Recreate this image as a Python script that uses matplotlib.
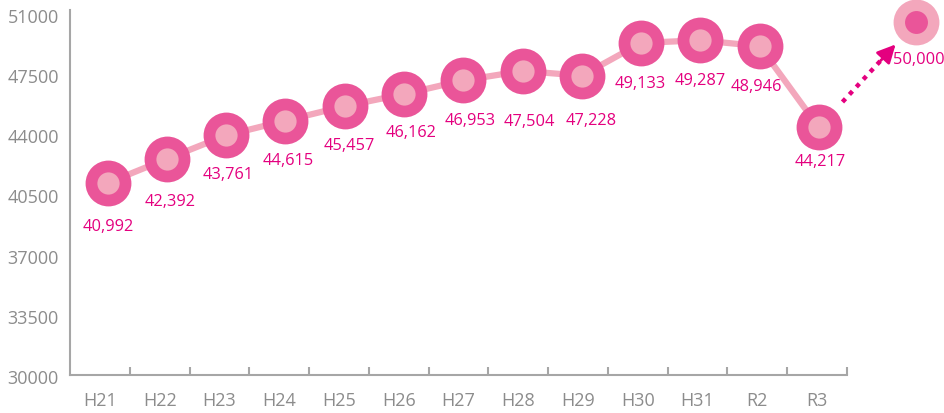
import numpy as np
import matplotlib
matplotlib.use("Agg")
import matplotlib.pyplot as plt
import matplotlib.transforms as mtransforms

# Data
years = ["H21", "H22", "H23", "H24", "H25", "H26", "H27", "H28", "H29", "H30", "H31", "R2", "R3"]
values = [40992, 42392, 43761, 44615, 45457, 46162, 46953, 47504, 47228, 49133, 49287, 48946, 44217]
target_value = 50000
y_ticks = [30000, 33500, 37000, 40500, 44000, 47500, 51000]

# Styles
dark_pink = "#EA5599"
light_pink = "#F3A7BC"
label_pink = "#E4007F"
axis_grey = "#A6A6A6"
text_grey = "#8C8C8C"

plt.rcParams["font.family"] = ["Open Sans", "DejaVu Sans"]

fig = plt.figure(figsize=(9.44, 4.13), dpi=100)
ax = fig.add_axes([70 / 944, 1 - 375 / 413, 777 / 944, 365 / 413])

x = np.arange(len(years))
# the points sit a little right of the category centres in the original
px = np.linspace(0.13, len(years) - 1 + 0.03, len(years))

ax.set_xlim(-0.5, len(years) - 0.5)
ax.set_ylim(29826, 51047)

ax.plot(px, values, color=light_pink, lw=4.5, zorder=1, solid_capstyle="round")
ax.plot(px, values, ls="none", marker="o", ms=33, mfc=dark_pink, mec="none", zorder=2)
ax.plot(px, values, ls="none", marker="o", ms=16, mfc=light_pink, mec="none", zorder=3)

# label offsets from each marker (pixels)
label_dx = [1, 3, 2, 3, 5, 7, 7, 7, 9, -1, 0, -3, 1]
label_dy = [-44, -43, -40, -40, -40, -39, -41, -51, -45, -41, -41, -41, -35]
for xi, v, dx, dy in zip(px, values, label_dx, label_dy):
    ax.annotate(f"{v:,}", (xi, v), xytext=(dx * 0.72, dy * 0.72), textcoords="offset points",
                ha="center", va="center", color=label_pink, fontsize=11.8)

# target marker (drawn slightly above its value like the original)
target_x = len(years) + 0.66
shift = mtransforms.ScaledTranslation(0, 6 / 100, fig.dpi_scale_trans)
t_trans = ax.transData + shift
ax.plot([target_x], [target_value], ls="none", marker="o", ms=33, mfc=light_pink,
        mec="none", transform=t_trans, clip_on=False, zorder=2)
ax.plot([target_x], [target_value], ls="none", marker="o", ms=16.5, mfc=dark_pink,
        mec="none", transform=t_trans, clip_on=False, zorder=3)
ax.annotate(f"{target_value:,}", (target_x, target_value), xycoords=t_trans,
            xytext=(2, -27), textcoords="offset points", ha="center", va="center",
            color=label_pink, fontsize=11.8, annotation_clip=False)

# dotted arrow from last point to target
ax.annotate("", xy=(target_x, target_value), xycoords=t_trans,
            xytext=(px[-1], values[-1]), textcoords="data",
            arrowprops=dict(arrowstyle="-", color=label_pink, lw=3.2, ls=(0, (1.0, 1.3)),
                            capstyle="butt", shrinkA=25, shrinkB=32),
            annotation_clip=False)

# solid arrow head at the end of the dotted line
p_end = np.array(t_trans.transform((target_x, target_value)))
p_start = np.array(ax.transData.transform((px[-1], values[-1])))
direction = (p_start - p_end) / np.linalg.norm(p_start - p_end)
back = direction * 38  # points
ax.annotate("", xy=(target_x, target_value), xycoords=t_trans,
            xytext=(back[0], back[1]), textcoords="offset points",
            arrowprops=dict(arrowstyle="-|>,head_length=1.1,head_width=0.55",
                            color=label_pink, lw=2, shrinkA=0, shrinkB=22),
            annotation_clip=False)

ax.set_yticks(y_ticks)
ax.set_yticklabels([str(t) for t in y_ticks])
ax.set_xticks(x)
ax.set_xticklabels(years)
ax.set_xticks(np.arange(0.5, len(years), 1), minor=True)

ax.tick_params(axis="y", length=0, pad=8, labelsize=13, labelcolor=text_grey)
ax.tick_params(axis="x", which="major", length=0, pad=12, labelsize=13, labelcolor=text_grey)
ax.tick_params(axis="x", which="minor", direction="in", length=5.5, width=1.5, color=axis_grey)

# shift y labels slightly downward like the original
for lab in ax.get_yticklabels():
    lab.set_transform(lab.get_transform() + mtransforms.ScaledTranslation(0, -5 / 100, fig.dpi_scale_trans))

for side in ["top", "right"]:
    ax.spines[side].set_visible(False)
for side in ["left", "bottom"]:
    ax.spines[side].set_color(axis_grey)
    ax.spines[side].set_linewidth(1.5)

fig.savefig("out.png", dpi=100)
